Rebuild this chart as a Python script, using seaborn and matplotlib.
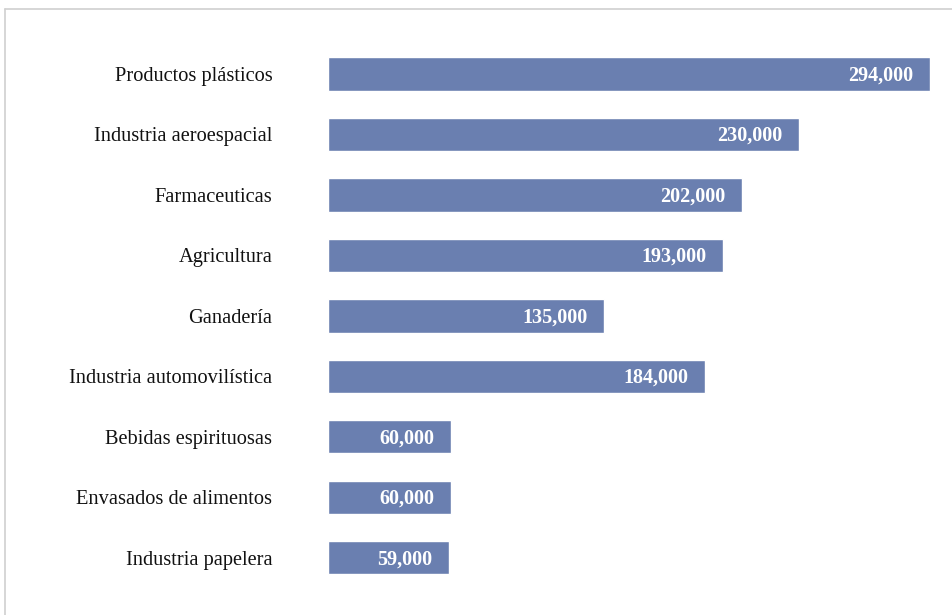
import matplotlib
matplotlib.use("Agg")
import matplotlib.pyplot as plt
from matplotlib.lines import Line2D
import seaborn as sns
import pandas as pd

categories = [
    "Productos plásticos",
    "Industria aeroespacial",
    "Farmaceuticas",
    "Agricultura",
    "Ganadería",
    "Industria automovilística",
    "Bebidas espirituosas",
    "Envasados de alimentos",
    "Industria papelera",
]
values = [294000, 230000, 202000, 193000, 135000, 184000, 60000, 60000, 59000]

df = pd.DataFrame({"sector": categories, "valor": values})

sns.set_theme(style="white")
plt.rcParams["font.family"] = ["Liberation Serif", "DejaVu Serif"]

fig = plt.figure(figsize=(9.52, 6.15), dpi=100)
ax = fig.add_axes([328 / 952, 1 - 588 / 615, (930 - 328) / 952, (588 - 43.75) / 615])

bar_color = "#6a7fb0"
sns.barplot(data=df, y="sector", x="valor", orient="h", color=bar_color,
            width=0.55, saturation=1, ax=ax)

ax.set_xlim(0, max(values))
ax.set_ylim(len(categories) - 0.5, -0.5)
ax.set_xlabel("")
ax.set_ylabel("")
ax.set_xticks([])
for s in ax.spines.values():
    s.set_visible(False)
ax.tick_params(axis="y", length=0, pad=40, labelsize=14.7, labelcolor="#111111")

for i, v in enumerate(values):
    ax.annotate(f"{v:,}", xy=(v, i), xytext=(-12, -1), textcoords="offset points",
                ha="right", va="center", color="white", fontsize=14.5, fontweight="bold")

# light frame along the top and left edges
fig.add_artist(Line2D([5 / 952, 1], [1 - 9 / 615, 1 - 9 / 615], color="#d0d0d0", lw=1.2,
                      transform=fig.transFigure))
fig.add_artist(Line2D([5 / 952, 5 / 952], [0, 1 - 9 / 615], color="#d0d0d0", lw=1.2,
                      transform=fig.transFigure))

fig.savefig("out.png", dpi=100, facecolor="white")
